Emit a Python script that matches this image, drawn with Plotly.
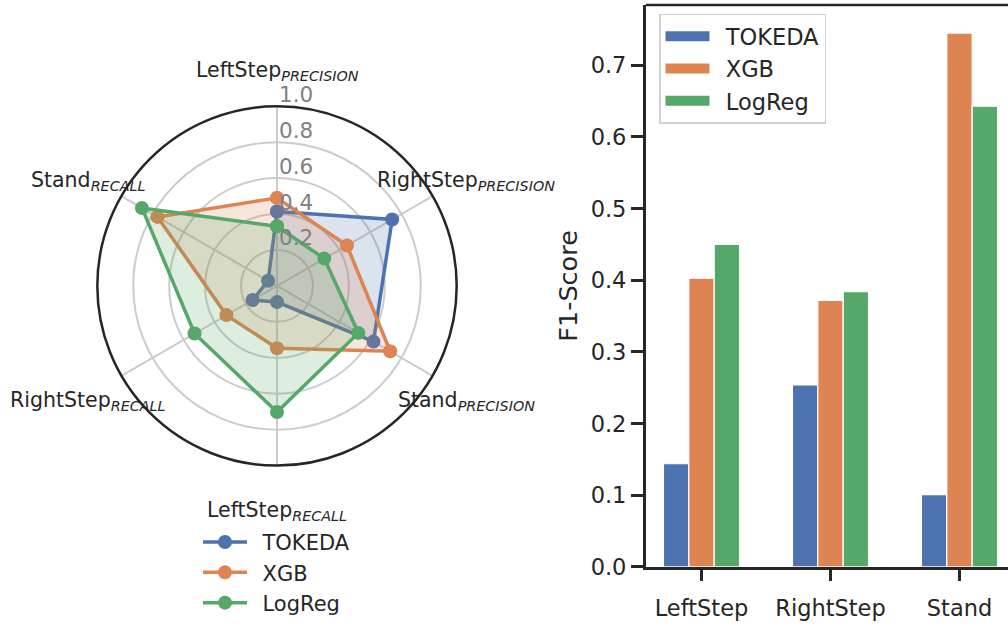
import math
import plotly.graph_objects as go

# ---- data -------------------------------------------------------------
models = ["TOKEDA", "XGB", "LogReg"]
colors = ["#4c72b0", "#dd8452", "#55a868"]

# radar spokes (clockwise from the top)
radar_names = ["LeftStep", "RightStep", "Stand", "LeftStep", "RightStep", "Stand"]
radar_kinds = ["PRECISION", "PRECISION", "PRECISION", "RECALL", "RECALL", "RECALL"]

tokeda_pr = [0.414, 0.74, 0.62, 0.09, 0.157, 0.057]
xgb_pr = [0.49, 0.45, 0.727, 0.347, 0.325, 0.768]
logreg_pr = [0.332, 0.304, 0.523, 0.702, 0.53, 0.868]

radial_ticks = [0.2, 0.4, 0.6, 0.8, 1.0]

# F1 bars
classes = ["LeftStep", "RightStep", "Stand"]
tokeda_f1 = [0.144, 0.254, 0.101]
xgb_f1 = [0.403, 0.372, 0.745]
logreg_f1 = [0.450, 0.384, 0.643]

f1_ticks = [0.0, 0.1, 0.2, 0.3, 0.4, 0.5, 0.6, 0.7]

# ---- layout constants -------------------------------------------------
W, H = 1008, 625
FONT = "DejaVu Sans"
INK = "#262626"
GRID = "#cccccc"
GAP = "\u2002"  # spacing between legend symbol and label

# radar placement (pixels)
CX, CY, R = 277, 292, 183.5

def rgba(hex_color, a):
    h = hex_color.lstrip("#")
    return "rgba(%d,%d,%d,%.2f)" % (int(h[0:2], 16), int(h[2:4], 16), int(h[4:6], 16), a)

spokes = ["%s_%s" % (n, k) for n, k in zip(radar_names, radar_kinds)]

fig = go.Figure()

# ---- radar ------------------------------------------------------------
for name, col, vals in zip(models, colors, [tokeda_pr, xgb_pr, logreg_pr]):
    r_closed = vals + vals[:1]
    t_closed = spokes + spokes[:1]
    # translucent area
    fig.add_trace(go.Scatterpolar(
        r=r_closed, theta=t_closed, mode="lines",
        line=dict(color=col, width=0),
        fill="toself", fillcolor=rgba(col, 0.2),
        showlegend=False, hoverinfo="skip",
    ))
    # outline with markers
    fig.add_trace(go.Scatterpolar(
        r=r_closed, theta=t_closed,
        mode="lines+markers",
        name=GAP + name,
        line=dict(color=col, width=3.5),
        marker=dict(color=col, size=14),
        legend="legend",
        hoverinfo="skip",
    ))

# ---- bars -------------------------------------------------------------
for name, col, vals in zip(models, colors, [tokeda_f1, xgb_f1, logreg_f1]):
    fig.add_trace(go.Bar(
        x=classes, y=vals, name=name,
        marker=dict(color=col, line=dict(color="white", width=1.2)),
        showlegend=False, xaxis="x", yaxis="y",
    ))
    # legend swatch for the bar panel
    fig.add_trace(go.Scatter(
        x=[None], y=[None], mode="lines", name=GAP + name,
        line=dict(color=col, width=13),
        legend="legend2", xaxis="x", yaxis="y",
    ))

# spoke labels around the radar
annotations = []
n = len(spokes)
for i, (nm, kd) in enumerate(zip(radar_names, radar_kinds)):
    ang = math.radians(90 - 360.0 * i / n)
    px = CX + 1.19 * R * math.cos(ang)
    py = CY - (1.19 * R + 6) * math.sin(ang) + 5
    annotations.append(dict(
        x=px / W, y=1 - py / H, xref="paper", yref="paper",
        text="%s<sub><i>%s</i></sub>" % (nm, kd),
        showarrow=False, xanchor="center", yanchor="middle",
        font=dict(family=FONT, size=20.5, color=INK),
    ))

# radial tick labels along the top spoke
for t in radial_ticks:
    py = CY - t * R
    annotations.append(dict(
        x=CX / W, y=1 - (py + 2.5) / H, xref="paper", yref="paper",
        text="%.1f" % t, showarrow=False, xanchor="left", yanchor="bottom",
        font=dict(family=FONT, size=21.5, color="#808080"),
    ))

fig.update_layout(
    width=W, height=H,
    margin=dict(l=0, r=0, t=0, b=0),
    paper_bgcolor="white", plot_bgcolor="white",
    font=dict(family=FONT, color=INK),
    polar=dict(
        domain=dict(x=[(CX - R) / W, (CX + R) / W], y=[1 - (CY + R) / H, 1 - (CY - R) / H]),
        bgcolor="white",
        angularaxis=dict(
            type="category", categoryarray=spokes, rotation=90, direction="clockwise",
            showticklabels=False, ticks="", showline=True, linecolor=INK, linewidth=2.5,
            showgrid=True, gridcolor=GRID, gridwidth=2,
        ),
        radialaxis=dict(
            range=[0, 1], tickvals=radial_ticks[:-1], showticklabels=False, ticks="",
            showline=False, showgrid=True, gridcolor=GRID, gridwidth=2,
        ),
    ),
    barmode="group", bargap=0.41, bargroupgap=0,
    xaxis=dict(
        domain=[645.7 / W, 1.0], range=[-0.4326, 2.376],
        showline=True, linecolor=INK, linewidth=2.5,
        ticks="outside", ticklen=11, tickwidth=2.5, tickcolor=INK, ticklabelstandoff=8,
        tickfont=dict(family=FONT, size=22.5, color=INK), showgrid=False, zeroline=False,
    ),
    yaxis=dict(
        domain=[1 - 579 / H, 1 - 5 / H], range=[0, 0.7843],
        tickvals=f1_ticks, tickformat=".1f",
        showline=True, linecolor=INK, linewidth=2.5,
        ticks="outside", ticklen=12, tickwidth=2.5, tickcolor=INK,
        tickfont=dict(family=FONT, size=22.5, color=INK), showgrid=False, zeroline=False,
        title=dict(text="F1-Score", font=dict(family=FONT, size=25.5, color=INK), standoff=6),
    ),
    legend=dict(
        x=198 / W, y=1 - 533 / H, xanchor="left", yanchor="top",
        font=dict(family=FONT, size=21, color=INK), bgcolor="rgba(0,0,0,0)",
        itemwidth=44, tracegroupgap=0,
    ),
    legend2=dict(
        x=659 / W, y=1 - 14 / H, xanchor="left", yanchor="top",
        font=dict(family=FONT, size=22.5, color=INK), bgcolor="rgba(255,255,255,0.8)",
        bordercolor="#d0d0d0", borderwidth=1.5, itemwidth=44,
    ),
    annotations=annotations,
    shapes=[dict(type="line", xref="x domain", yref="y domain", x0=0, x1=1, y0=1, y1=1,
                 line=dict(color=INK, width=2.5))],
    showlegend=True,
)

fig.write_html("out.html")
